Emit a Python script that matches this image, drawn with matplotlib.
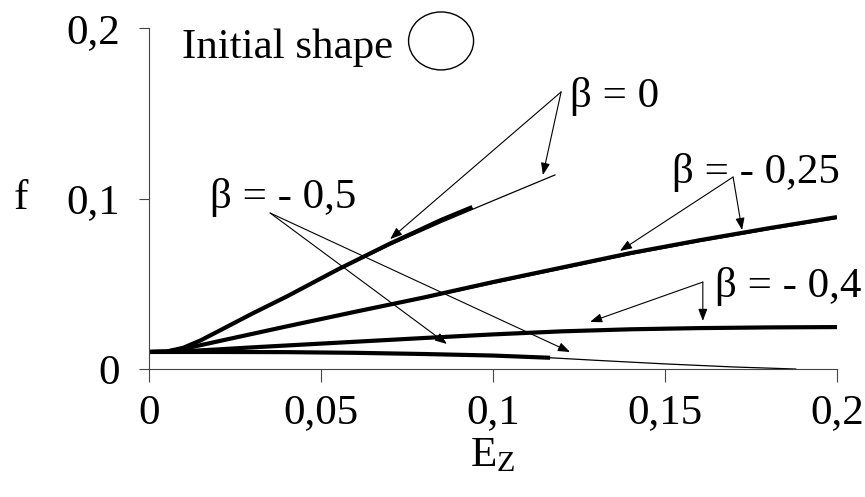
import matplotlib
matplotlib.use('Agg')
import matplotlib.pyplot as plt
from matplotlib.patches import Ellipse

plt.rcParams['font.family'] = ['Liberation Serif', 'DejaVu Serif']
plt.rcParams['mathtext.fontset'] = 'custom'
plt.rcParams['mathtext.rm'] = 'Liberation Serif'
plt.rcParams['mathtext.it'] = 'Liberation Serif'

# deformation E_z vs shape factor f, for several beta values
# thick = one model, thin = the other
b0_thick_x = [0, 0.005, 0.01, 0.015, 0.02, 0.03, 0.04, 0.055, 0.07, 0.085, 0.094]
b0_thick_y = [0.0100, 0.0102, 0.0125, 0.0168, 0.0220, 0.0325, 0.0425, 0.0585, 0.0735, 0.0875, 0.0950]
b0_thin_x = [0, 0.005, 0.01, 0.015, 0.02, 0.03, 0.04, 0.055, 0.07, 0.085, 0.1, 0.118]
b0_thin_y = [0.0100, 0.0102, 0.0125, 0.0168, 0.0220, 0.0325, 0.0423, 0.0580, 0.0726, 0.0860, 0.0987, 0.1138]

b25_x = [0, 0.005, 0.01, 0.02, 0.04, 0.06, 0.08, 0.1, 0.12, 0.14, 0.16, 0.18, 0.2]
b25_thick_y = [0.0100, 0.0102, 0.0118, 0.0162, 0.0250, 0.0336, 0.0420, 0.0510, 0.0595, 0.0680, 0.0755, 0.0825, 0.0891]
b25_thin_y = [0.0100, 0.0102, 0.0118, 0.0162, 0.0248, 0.0333, 0.0415, 0.0502, 0.0587, 0.0672, 0.0747, 0.0817, 0.0883]

b40_x = [0, 0.01, 0.02, 0.03, 0.04, 0.06, 0.08, 0.1, 0.12, 0.14, 0.16, 0.18, 0.2]
b40_thick_y = [0.0100, 0.0104, 0.0115, 0.0127, 0.0138, 0.0160, 0.0182, 0.0203, 0.0221, 0.0233, 0.0240, 0.0244, 0.0246]
b40_thin_y = [0.0100, 0.0104, 0.0115, 0.0127, 0.0138, 0.0160, 0.0182, 0.0203, 0.0221, 0.0233, 0.0240, 0.0244, 0.0245]

b50_thick_x = [0, 0.02, 0.04, 0.06, 0.08, 0.1, 0.1166]
b50_thick_y = [0.0100, 0.0100, 0.0099, 0.0095, 0.0088, 0.0079, 0.0066]
b50_thin_x = [0, 0.02, 0.04, 0.06, 0.08, 0.1, 0.1166, 0.13, 0.15, 0.17, 0.188]
b50_thin_y = [0.0100, 0.0100, 0.0099, 0.0095, 0.0088, 0.0079, 0.0066, 0.0051, 0.0030, 0.0012, 0.0]

xticks = [0, 0.05, 0.1, 0.15, 0.2]
xticklabels = ['0', '0,05', '0,1', '0,15', '0,2']
yticks = [0, 0.1, 0.2]
yticklabels = ['0', '0,1', '0,2']

fs = 31
thick = 3.0
thin = 0.9

fig = plt.figure(figsize=(8.65, 4.97), dpi=100)
ax = fig.add_axes([0.1723, 0.2575, 0.7953, 0.6862])

ax.plot(b0_thin_x, b0_thin_y, color='black', lw=thin)
ax.plot(b0_thick_x, b0_thick_y, color='black', lw=thick, solid_capstyle='butt')
ax.plot(b25_x, b25_thin_y, color='black', lw=thin)
ax.plot(b25_x, b25_thick_y, color='black', lw=thick, solid_capstyle='butt')
ax.plot(b40_x, b40_thin_y, color='black', lw=thin)
ax.plot(b40_x, b40_thick_y, color='black', lw=thick, solid_capstyle='butt')
ax.plot(b50_thin_x, b50_thin_y, color='black', lw=thin)
ax.plot(b50_thick_x, b50_thick_y, color='black', lw=thick, solid_capstyle='butt')

ax.set_xlim(0, 0.2)
ax.set_ylim(0, 0.2)
ax.set_xticks(xticks)
ax.set_xticklabels(xticklabels)
ax.set_yticks(yticks)
ax.set_yticklabels(yticklabels)
ax.tick_params(axis='x', direction='out', length=9, width=0.8, color='#444444',
               labelsize=fs, pad=9)
ax.tick_params(axis='y', direction='out', length=7, width=0.8, color='#444444',
               labelsize=fs, pad=14)
for side in ['top', 'right']:
    ax.spines[side].set_visible(False)
for side in ['left', 'bottom']:
    ax.spines[side].set_color('#444444')
    ax.spines[side].set_linewidth(0.8)

ax.set_xlabel(r'$\mathrm{E_Z}$', fontsize=fs)
ax.xaxis.set_label_coords(0.5, -0.2)
ax.set_ylabel('f', fontsize=fs, rotation=0, ha='center', va='center')
ax.yaxis.set_label_coords(-0.187, 0.5)

arrow = dict(arrowstyle='-|>,head_length=0.45,head_width=0.17', color='black',
             lw=0.8, mutation_scale=16, shrinkA=0, shrinkB=0)

# (label, text position, arrow origin, arrow tips)
labels = [
    ('β = 0', (0.1224, 0.1537), (0.1198, 0.1625), [(0.0701, 0.0762), (0.1145, 0.1138)]),
    ('β = - 0,25', (0.1520, 0.1091), (0.1698, 0.1126), [(0.1369, 0.0692), (0.1724, 0.0815)]),
    ('β = - 0,4', (0.1645, 0.0422), (0.1610, 0.0510), [(0.1282, 0.0276), (0.1610, 0.0282)]),
    ('β = - 0,5', (0.0177, 0.0944), (0.0352, 0.0915), [(0.0866, 0.0147), (0.1224, 0.0100)]),
]
for text, tpos, origin, tips in labels:
    ax.text(tpos[0], tpos[1], text, fontsize=fs, ha='left', va='baseline')
    for tip in tips:
        ax.annotate('', xy=tip, xytext=origin, arrowprops=arrow)

ax.text(0.0096, 0.1824, 'Initial shape', fontsize=fs, ha='left', va='baseline')
ax.add_patch(Ellipse((0.0849, 0.1924), 0.0189, 0.034, fill=False,
                     edgecolor='black', lw=1.0, clip_on=False))

fig.savefig('out.png', dpi=100)
